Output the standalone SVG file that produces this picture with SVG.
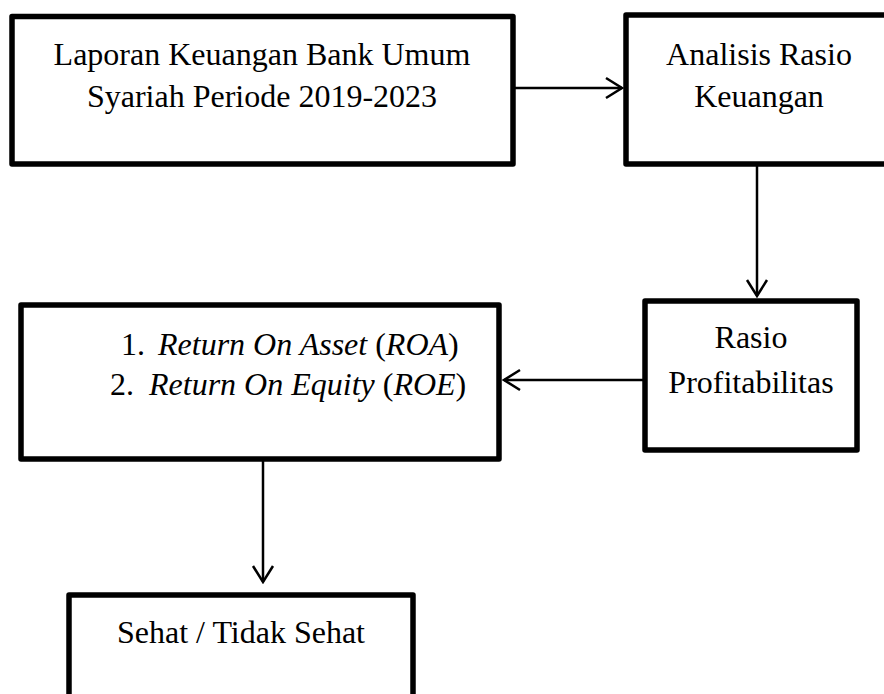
<svg xmlns="http://www.w3.org/2000/svg" width="884" height="694" viewBox="0 0 884 694">
<style>
.box{fill:#fff;stroke:#000;stroke-width:5.5;stroke-linejoin:round}
.lbl{font-family:"Liberation Serif","Times New Roman",serif;font-size:32px;fill:#000}
.c{text-anchor:middle}
.i{font-style:italic}
.conn{stroke:#000;stroke-width:2.5;fill:none}
</style>
<defs>
<marker id="arr" markerUnits="userSpaceOnUse" viewBox="-20 -12 22 24" markerWidth="22" markerHeight="24" refX="0" refY="0" orient="auto">
<path d="M-16,-10 L0,0 L-16,10" fill="none" stroke="#000" stroke-width="2.5"/>
</marker>
</defs>
<rect width="884" height="694" fill="#fff"/>
<g id="connectors">
<line class="conn" x1="515" y1="88" x2="622" y2="88" marker-end="url(#arr)"/>
<line class="conn" x1="757" y1="166" x2="757" y2="296" marker-end="url(#arr)"/>
<line class="conn" x1="643" y1="380" x2="504" y2="380" marker-end="url(#arr)"/>
<line class="conn" x1="263" y1="461" x2="263" y2="582" marker-end="url(#arr)"/>
</g>
<g id="node-laporan">
<rect class="box" x="12" y="16.5" width="501" height="147.5"/>
<text class="lbl c" x="262" y="65">Laporan Keuangan Bank Umum</text>
<text class="lbl c" x="262" y="107">Syariah Periode 2019-2023</text>
</g>
<g id="node-analisis">
<rect class="box" x="626" y="15" width="266" height="149"/>
<text class="lbl c" x="759" y="65">Analisis Rasio</text>
<text class="lbl c" x="759" y="107">Keuangan</text>
</g>
<g id="node-rasio">
<rect class="box" x="645" y="301" width="212" height="149"/>
<text class="lbl c" x="751" y="348">Rasio</text>
<text class="lbl c" x="751" y="393">Profitabilitas</text>
</g>
<g id="node-roa-roe">
<rect class="box" x="21" y="305" width="478" height="154"/>
<text class="lbl" y="355"><tspan x="121">1.</tspan><tspan x="158" class="i">Return On Asset</tspan> (<tspan class="i">ROA</tspan>)</text>
<text class="lbl" y="395"><tspan x="110">2.</tspan><tspan x="149" class="i">Return On Equity</tspan> (<tspan class="i">ROE</tspan>)</text>
</g>
<g id="node-sehat">
<rect class="box" x="69" y="595" width="344" height="110"/>
<text class="lbl c" x="241" y="643">Sehat / Tidak Sehat</text>
</g>
</svg>
